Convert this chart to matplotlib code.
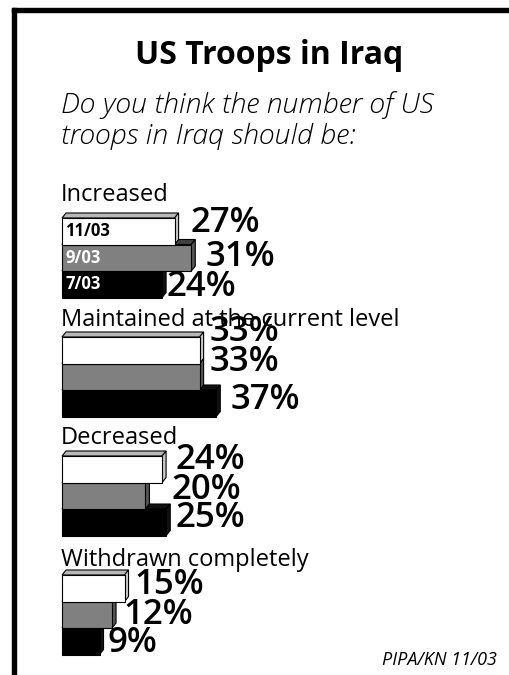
import matplotlib.pyplot as plt
from matplotlib.patches import Polygon, Rectangle

# 資料
categories = ["Increased", "Maintained at the current level", "Decreased", "Withdrawn completely"]
waves = ["11/03", "9/03", "7/03"]
values = {
    "11/03": [27, 33, 24, 15],
    "9/03": [31, 33, 20, 12],
    "7/03": [24, 37, 25, 9],
}
title = "US Troops in Iraq"
question = ["Do you think the number of US", "troops in Iraq should be:"]
source = "PIPA/KN 11/03"

W, H = 509, 675
k = 4.17          # 每 1% 幾個 px
x0 = 62           # 長條起點 px
bar_h = 26.5
grp_top = [218, 337, 456, 575]
cat_gap = [17, 11, 12, 9]   # 類別文字 baseline 與長條頂的距離
dx, dy = 4 / k, 5  # 立體深度 (百分比, px)

# 數字標籤微調 (x 間距 px, y 位移 px), 依組別 / 波次
nudge = [
    [(14, -8), (12, -1), (2, 3)],
    [(8, -18), (8, -15), (12, -3)],
    [(11, -9), (24, -6), (7, -4)],
    [(8, -3), (9, 0), (6, 2)],
]

face = {"11/03": "white", "9/03": "#808080", "7/03": "black"}
topc = {"11/03": "#b8b8b8", "9/03": "#404040", "7/03": "#111111"}
sidec = {"11/03": "#c8c8c8", "9/03": "#555555", "7/03": "#111111"}
inner_txt = {"11/03": "black", "9/03": "white", "7/03": "white"}

plt.rcParams["font.family"] = ["Open Sans", "DejaVu Sans"]

fig = plt.figure(figsize=(W / 100, H / 100), dpi=100)
ax = fig.add_axes([0, 0, 1, 1])
ax.set_xlim(-x0 / k, (W - x0) / k)
ax.set_ylim(H, 0)
ax.axis("off")


def fx(px):
    return px / W


def fy(py):
    return 1 - py / H


# 外框
fig.patches.append(Rectangle((fx(12), 0), 4 / W, fy(8), transform=fig.transFigure, color="black"))
fig.patches.append(Rectangle((fx(12), fy(12)), 1, 4 / H, transform=fig.transFigure, color="black"))

fig.text(fx(269), fy(64), title, ha="center", va="baseline", fontsize=23, fontweight="bold")
fig.text(fx(61), fy(113), question[0], ha="left", va="baseline", fontsize=20.5, style="italic",
         fontweight="light")
fig.text(fx(61), fy(144), question[1], ha="left", va="baseline", fontsize=20.5, style="italic",
         fontweight="light")
fig.text(fx(497), fy(665), source, ha="right", va="baseline", fontsize=13, style="italic")

# 長條 (由下往上畫, 上面的蓋住下面的頂面)
z = 2
for g, cat in enumerate(categories):
    ax.text(-1 / k, grp_top[g] - cat_gap[g], cat, ha="left", va="baseline", fontsize=17,
            zorder=50)
    for i in reversed(range(len(waves))):
        w = waves[i]
        v = values[w][g]
        yt = grp_top[g] + i * bar_h
        yb = yt + bar_h
        ax.add_patch(Polygon([(0, yt), (v, yt), (v + dx, yt - dy), (dx, yt - dy)], closed=True,
                             facecolor=topc[w], edgecolor="black", lw=0.8, zorder=z))
        ax.add_patch(Polygon([(v, yt), (v + dx, yt - dy), (v + dx, yb - dy), (v, yb)], closed=True,
                             facecolor=sidec[w], edgecolor="black", lw=0.8, zorder=z))
        ax.barh(yt, v, height=bar_h, left=0, align="edge", color=face[w], edgecolor="black",
                lw=0.8, zorder=z + 1)
        z += 2
        nx, ny = nudge[g][i]
        ax.text(v + dx + (nx - 2) / k, (yt + yb) / 2 + ny, f"{v}%", ha="left", va="center",
                fontsize=25, fontweight="semibold", zorder=60)
        if g == 0:
            ax.text(3 / k, (yt + yb) / 2, w, ha="left", va="center", fontsize=12,
                    fontweight="bold", color=inner_txt[w], zorder=z + 1)

fig.savefig("out.png", dpi=100)
